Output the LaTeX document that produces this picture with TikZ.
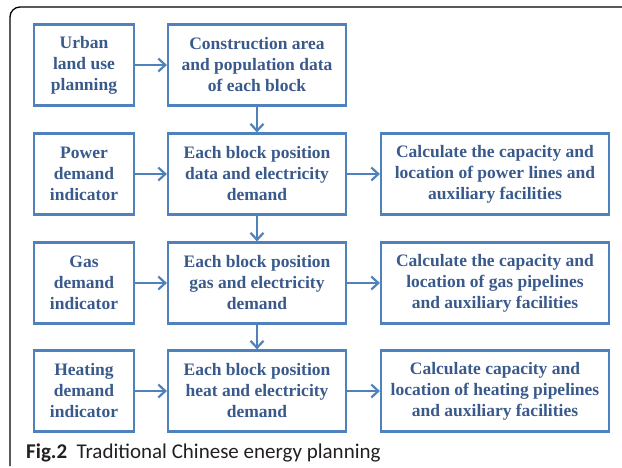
\documentclass[tikz,border=0pt]{standalone}
\usepackage{fontspec}
\setmainfont{Liberation Serif}
\newfontfamily\capfont{Carlito}
\usetikzlibrary{arrows.meta}
\definecolor{boxblue}{HTML}{4F81BD}
\definecolor{textblue}{HTML}{3A5A8C}
\definecolor{capgray}{HTML}{231F20}

\begin{document}
\begin{tikzpicture}[x=1pt,y=-1pt,
  blockbox/.style={draw=boxblue,line width=2.2pt,text=textblue,
    font=\bfseries\fontsize{17.5}{21}\selectfont,align=center,
    minimum height=81pt,inner sep=0pt},
  leftbox/.style={blockbox,minimum width=100pt},
  midbox/.style={blockbox,minimum width=178pt},
  calcbox/.style={blockbox,minimum width=228pt},
  flow/.style={boxblue,line width=2.2pt,-{Straight Barb[length=7pt,width=13pt]}}]
\useasboundingbox (0,0) rectangle (622,467);
\draw[line width=1.3pt,rounded corners=10pt] (10,466) -- (10,7) -- (622,7);

\node[leftbox] (urban) at (84,65) {Urban\\land use\\planning};
\node[midbox] (construct) at (257,65) {Construction area\\and population data\\of each block};

\node[leftbox] (power) at (84,174) {Power\\demand\\indicator};
\node[midbox] (elecblock) at (257,174) {Each block position\\data and electricity\\demand};
\node[calcbox] (powercalc) at (495,174) {Calculate the capacity and\\location of power lines and\\auxiliary facilities};

\node[leftbox] (gas) at (84,283) {Gas\\demand\\indicator};
\node[midbox] (gasblock) at (257,283) {Each block position\\gas and electricity\\demand};
\node[calcbox] (gascalc) at (495,283) {Calculate the capacity and\\location of gas pipelines\\and auxiliary facilities};

\node[leftbox] (heating) at (84,391) {Heating\\demand\\indicator};
\node[midbox] (heatblock) at (257,391) {Each block position\\heat and electricity\\demand};
\node[calcbox] (heatcalc) at (495,391) {Calculate capacity and\\location of heating pipelines\\and auxiliary facilities};

\draw[flow] (urban) -- (construct);
\draw[flow] (construct) -- (elecblock);
\draw[flow] (power) -- (elecblock);
\draw[flow] (elecblock) -- (powercalc);
\draw[flow] (elecblock) -- (gasblock);
\draw[flow] (gas) -- (gasblock);
\draw[flow] (gasblock) -- (gascalc);
\draw[flow] (gasblock) -- (heatblock);
\draw[flow] (heating) -- (heatblock);
\draw[flow] (heatblock) -- (heatcalc);

\node[anchor=base west,inner sep=0pt,text=capgray,font=\capfont\fontsize{21}{24}\selectfont]
  (caption) at (26,458) {\textbf{Fig.2}\hspace{0.45em}Traditional Chinese energy planning};
\end{tikzpicture}
\end{document}
